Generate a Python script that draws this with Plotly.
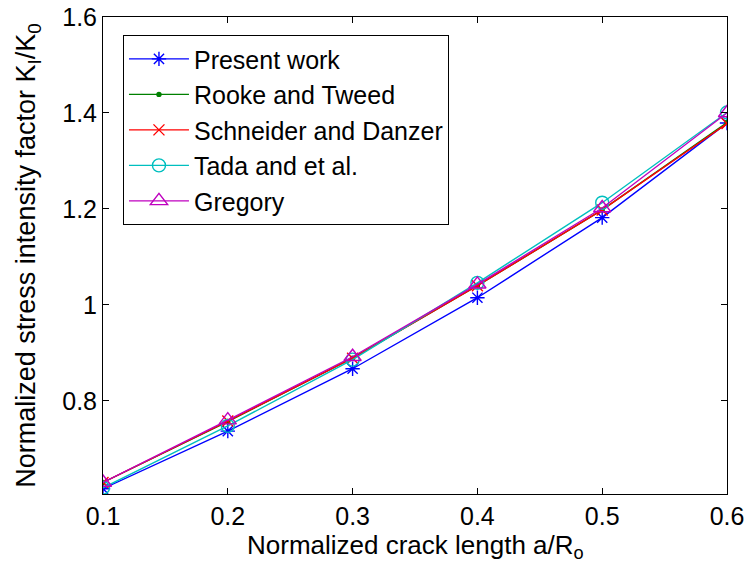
import plotly.graph_objects as go

x_vals = [0.1, 0.2, 0.3, 0.4, 0.5, 0.6]
present_work = [0.617, 0.737, 0.867, 1.015, 1.182, 1.379]
rooke_tweed = [0.630, 0.757, 0.889, 1.040, 1.198, 1.380]
schneider_danzer = [0.630, 0.758, 0.889, 1.040, 1.198, 1.378]
tada_etal = [0.619, 0.748, 0.886, 1.046, 1.213, 1.401]
gregory = [0.630, 0.760, 0.892, 1.043, 1.202, 1.400]

x_ticks = [0.1, 0.2, 0.3, 0.4, 0.5, 0.6]
x_ticktext = ["0.1", "0.2", "0.3", "0.4", "0.5", "0.6"]
y_ticks = [0.8, 1.0, 1.2, 1.4, 1.6]
y_ticktext = ["0.8", "1", "1.2", "1.4", "1.6"]

x_title = "Normalized crack length a/R<sub>o</sub>"
y_title = "Normalized stress intensity factor K<sub>I</sub>/K<sub>0</sub>"

series = [
    ("Present work", present_work, "#0000FF", "asterisk-open", 12),
    ("Rooke and Tweed", rooke_tweed, "#008000", "circle", 4),
    ("Schneider and Danzer", schneider_danzer, "#FF0000", "x-thin-open", 11),
    ("Tada and et al.", tada_etal, "#00BFBF", "circle-open", 13),
    ("Gregory", gregory, "#BF00BF", "triangle-up-open", 15),
]

FONT = "Liberation Sans, Arial, sans-serif"

fig = go.Figure()
for name, ys, color, sym, size in series:
    fig.add_trace(go.Scatter(
        x=x_vals, y=ys, name=name, mode="lines+markers",
        line=dict(color=color, width=1.4),
        marker=dict(symbol=sym, size=size, color=color,
                    line=dict(color=color, width=1.4)),
    ))

axis_common = dict(
    showline=True, linecolor="black", linewidth=1, mirror="all",
    ticks="inside", ticklen=6, tickcolor="black", showgrid=False,
    zeroline=False, automargin=False,
    tickfont=dict(family=FONT, size=25, color="black"),
)

fig.update_layout(
    width=747, height=574,
    margin=dict(l=103, r=20, t=17, b=80),
    paper_bgcolor="white", plot_bgcolor="white",
    font=dict(family=FONT, size=25, color="black"),
    xaxis=dict(range=[0.1, 0.6], tickvals=x_ticks, ticktext=x_ticktext,
               **axis_common),
    yaxis=dict(range=[0.606, 1.6], tickvals=y_ticks, ticktext=y_ticktext,
               title=dict(text=y_title, standoff=18, font=dict(size=27)),
               **axis_common),
    legend=dict(x=0.032, y=0.962, xanchor="left", yanchor="top",
                bgcolor="white", bordercolor="black", borderwidth=1,
                font=dict(size=25), tracegroupgap=0, itemwidth=60),
    showlegend=True,
    annotations=[dict(text=x_title, xref="paper", yref="paper", x=0.5, y=-0.072,
                      xanchor="center", yanchor="top", showarrow=False,
                      font=dict(family=FONT, size=26, color="black"))],
)

fig.write_html("out.html", config={"displayModeBar": False},
               post_script="document.body.style.margin='0';")
